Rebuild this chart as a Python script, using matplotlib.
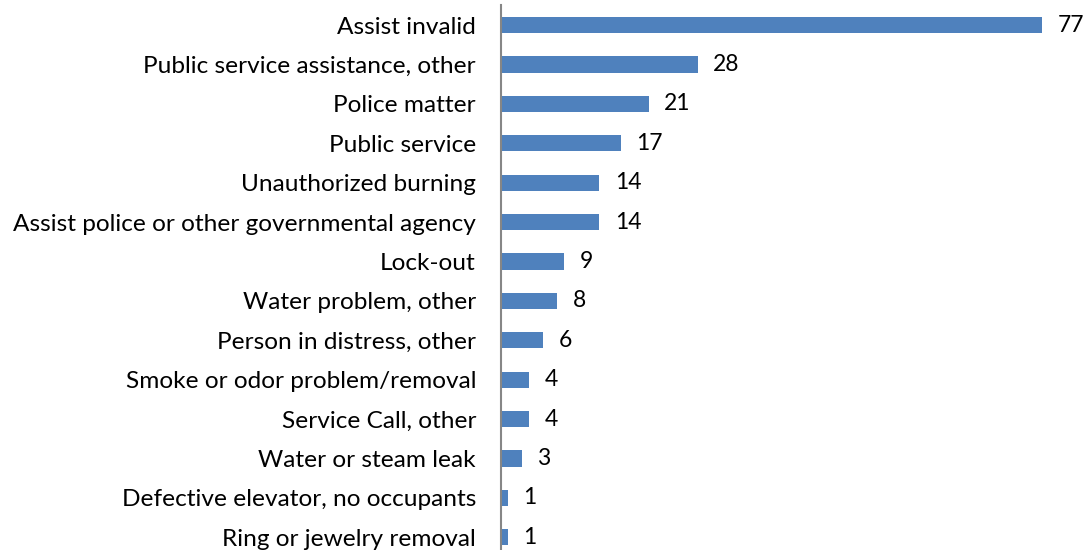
import matplotlib
matplotlib.use("Agg")
import matplotlib.pyplot as plt

# Incident types and counts, top to bottom
CATEGORIAS = [
    "Assist invalid",
    "Public service assistance, other",
    "Police matter",
    "Public service",
    "Unauthorized burning",
    "Assist police or other governmental agency",
    "Lock-out",
    "Water problem, other",
    "Person in distress, other",
    "Smoke or odor problem/removal",
    "Service Call, other",
    "Water or steam leak",
    "Defective elevator, no occupants",
    "Ring or jewelry removal",
]
VALORES = [77, 28, 21, 17, 14, 14, 9, 8, 6, 4, 4, 3, 1, 1]

BAR_COLOR = "#4F81BD"
FONT = ["Lato", "DejaVu Sans"]
plt.rcParams["font.family"] = FONT

fig = plt.figure(figsize=(10.89, 5.50), dpi=100)
ax = fig.add_axes([501 / 1089, 0.0, 1 - 501 / 1089, 1.0])

pos = list(range(len(CATEGORIAS)))
ax.barh(pos, VALORES, height=0.41, color=BAR_COLOR)

for y, v in zip(pos, VALORES):
    ax.annotate(str(v), xy=(v, y), xytext=(11, 0), textcoords="offset points",
                va="center", ha="left", fontsize=16.5, color="black")

ax.set_xlim(0, 588 / 7.03)
ax.set_ylim(13.32, -0.635)
ax.set_yticks(pos)
ax.set_yticklabels(CATEGORIAS, fontsize=17.6)
ax.tick_params(axis="y", length=0, pad=18)
ax.set_xticks([])

for s in ("top", "right", "bottom"):
    ax.spines[s].set_visible(False)
ax.spines["left"].set_color("#868686")
ax.spines["left"].set_linewidth(1.5)
ax.spines["left"].set_bounds(-0.5, 13.32)

fig.savefig("out.png", dpi=100, facecolor="white")
